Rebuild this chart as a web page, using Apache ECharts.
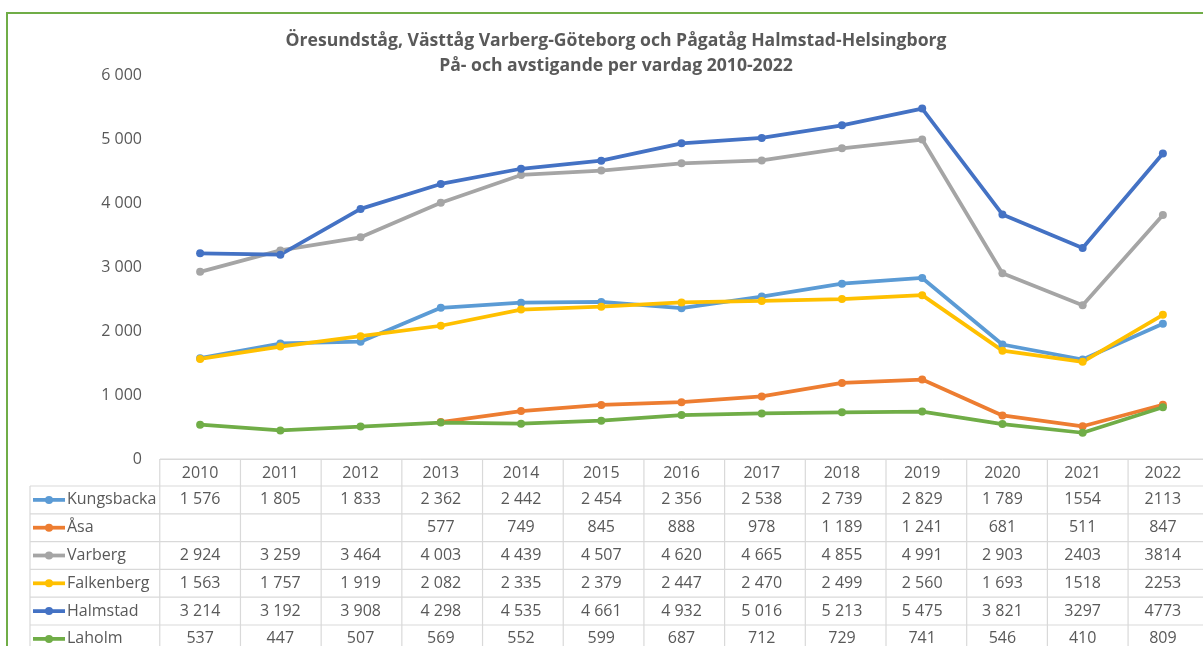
<!DOCTYPE html>
<html>
<head>
<meta charset="utf-8">
<script src="https://cdn.jsdelivr.net/npm/echarts@6/dist/echarts.min.js"></script>
<style>
html,body{margin:0;padding:0;background:#fff;}
#c{width:1203px;height:646px;}
</style>
</head>
<body>
<div id="c"></div>
<script>
const years = ['2010','2011','2012','2013','2014','2015','2016','2017','2018','2019','2020','2021','2022'];
const kungsbacka = [1576,1805,1833,2362,2442,2454,2356,2538,2739,2829,1789,1554,2113];
const asa        = [null,null,null,577,749,845,888,978,1189,1241,681,511,847];
const varberg    = [2924,3259,3464,4003,4439,4507,4620,4665,4855,4991,2903,2403,3814];
const falkenberg = [1563,1757,1919,2082,2335,2379,2447,2470,2499,2560,1693,1518,2253];
const halmstad   = [3214,3192,3908,4298,4535,4661,4932,5016,5213,5475,3821,3297,4773];
const laholm     = [537,447,507,569,552,599,687,712,729,741,546,410,809];
const seriesNames = ['Kungsbacka','Åsa','Varberg','Falkenberg','Halmstad','Laholm'];
const seriesData = [kungsbacka, asa, varberg, falkenberg, halmstad, laholm];
const seriesColors = ['#5B9BD5','#ED7D31','#A5A5A5','#FFC000','#4472C4','#70AD47'];
const yearsWithoutSeparator = ['2021','2022'];
const titleLines = ['Öresundståg, Västtåg Varberg-Göteborg och Pågatåg Halmstad-Helsingborg','På- och avstigande per vardag 2010-2022'];

const FONT = '"Open Sans", "Noto Sans", sans-serif';
const TXT = '#595959';

function fmt(v, year) {
  if (v === null || v === undefined) return '';
  const s = String(v);
  if (yearsWithoutSeparator.includes(year)) return s;
  return s.replace(/\B(?=(\d{3})+(?!\d))/g, ' ');
}

const chart = echarts.init(document.getElementById('c'), null, {renderer:'canvas'});
const GRID = {left:160, top:75, width:1049, height:384};

chart.setOption({
  animation:false,
  backgroundColor:'#fff',
  title:{
    text: titleLines.join('\n'),
    left: 611, top: 23, textAlign:'center',
    textStyle:{fontFamily:FONT, fontSize:17.6, fontWeight:'bold', color:TXT, lineHeight:25}
  },
  grid: GRID,
  xAxis:{
    type:'category', data:years, boundaryGap:true,
    axisLine:{lineStyle:{color:'#D9D9D9', width:1}},
    axisTick:{show:false},
    axisLabel:{color:TXT, fontFamily:FONT, fontSize:16, margin:6}
  },
  yAxis:{
    type:'value', min:0, max:6000, interval:1000,
    axisLine:{show:false}, axisTick:{show:false},
    splitLine:{show:false},
    axisLabel:{color:TXT, fontFamily:FONT, fontSize:16, margin:18,
      formatter:v => String(v).replace(/\B(?=(\d{3})+(?!\d))/g,' ')}
  },
  series: seriesNames.map((n,i)=>({
    name:n, type:'line', data:seriesData[i],
    symbol:'circle', symbolSize:8,
    lineStyle:{width:3.75, color:seriesColors[i]},
    itemStyle:{color:seriesColors[i]},
    connectNulls:false
  }))
});

// Build data table with graphic elements aligned to axis columns
const centers = years.map((y,i)=>chart.convertToPixel({xAxisIndex:0}, i));
const colW = GRID.width / years.length;
const tableTop = GRID.top + GRID.height;
const headerH = 27;
const rowH = 27.8;
const legendLeft = 30;
const tableRight = GRID.left + GRID.width;
const lineColor = '#D9D9D9';
const CELLFONT = '16px ' + FONT;
const els = [];
function hline(x1,x2,y){els.push({type:'line',silent:true,shape:{x1,y1:y,x2,y2:y},style:{stroke:lineColor,lineWidth:1.2}});}
function vline(x,y1,y2){els.push({type:'line',silent:true,shape:{x1:x,y1,x2:x,y2},style:{stroke:lineColor,lineWidth:1.2}});}
const nRows = seriesNames.length;
const tableBottom = tableTop + headerH + rowH*nRows;
hline(GRID.left, tableRight, tableTop);
for (let r=0;r<=nRows;r++) hline(legendLeft, tableRight, tableTop+headerH+rowH*r);
vline(legendLeft, tableTop+headerH, tableBottom);
for (let c=0;c<=years.length;c++) vline(centers[0]-colW/2 + colW*c, tableTop, tableBottom);
seriesNames.forEach((n,r)=>{
  const cy = tableTop+headerH+rowH*r+rowH/2;
  els.push({type:'line',silent:true,shape:{x1:33,y1:cy,x2:65,y2:cy},style:{stroke:seriesColors[r],lineWidth:3.75}});
  els.push({type:'circle',silent:true,shape:{cx:49,cy:cy,r:4},style:{fill:seriesColors[r]}});
  els.push({type:'text',silent:true,x:67,y:cy,style:{text:n,fill:TXT,font:CELLFONT,textVerticalAlign:'middle',textAlign:'left'}});
  years.forEach((y,c)=>{
    els.push({type:'text',silent:true,x:centers[c],y:cy,style:{text:fmt(seriesData[r][c],y),fill:TXT,font:CELLFONT,textVerticalAlign:'middle',textAlign:'center'}});
  });
});
// outer chart border
els.push({type:'rect',silent:true,shape:{x:7,y:13,width:1400,height:800},style:{fill:null,stroke:'#70AD47',lineWidth:2},z:100});
chart.setOption({graphic:els});
</script>
</body>
</html>
